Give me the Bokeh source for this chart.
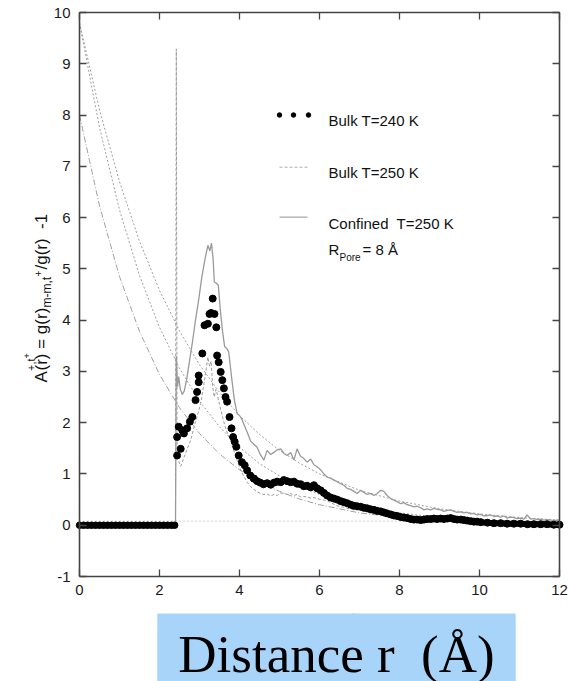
import math
from bokeh.plotting import figure
from bokeh.models import Range1d, Label, LinearAxis, FixedTicker
from bokeh.embed import file_html
from bokeh.resources import INLINE

# ---------------- data ----------------
x_ticks = [0, 2, 4, 6, 8, 10, 12]
y_ticks = [-1, 0, 1, 2, 3, 4, 5, 6, 7, 8, 9, 10]
y_tick_labels = {-1: "-1"}

# Bulk T=240 K (black dots)
bulk240_zero_x = [0.0, 0.1, 0.2, 0.3, 0.4, 0.5, 0.6, 0.7, 0.8, 0.9, 1.0, 1.1, 1.2,
                  1.3, 1.4, 1.5, 1.6, 1.7, 1.8, 1.9, 2.0, 2.1, 2.2, 2.3, 2.38]
bulk240_zero_y = [0.0] * 25
bulk240_peak_x = [2.44, 2.44, 2.48, 2.53, 2.57, 2.61, 2.69, 2.76, 2.82, 2.90, 2.94, 2.98,
                  2.98, 3.07, 3.125, 3.21, 3.25, 3.29, 3.33, 3.375, 3.42, 3.44, 3.48, 3.53,
                  3.57, 3.61, 3.65, 3.69, 3.75, 3.80, 3.84, 3.88, 3.92, 3.98, 4.06, 4.13,
                  4.19, 4.27, 4.36]
bulk240_peak_y = [1.36, 1.72, 1.92, 1.49, 1.85, 1.79, 1.89, 2.02, 2.11, 2.44, 2.60, 2.79,
                  2.92, 3.35, 3.90, 3.93, 4.12, 4.14, 4.42, 4.12, 3.86, 3.31, 3.18, 2.99,
                  2.83, 2.67, 2.50, 2.41, 2.11, 1.89, 1.72, 1.63, 1.53, 1.36, 1.23, 1.17,
                  1.07, 0.97, 0.91]
bulk240_tail_x = [4.36, 4.44, 4.52, 4.60, 4.69, 4.78, 4.86, 4.94, 5.03, 5.11, 5.19, 5.28,
                  5.36, 5.44, 5.53, 5.61, 5.69, 5.78, 5.86, 5.94, 6.03, 6.11, 6.19, 6.28,
                  6.36, 6.44, 6.53, 6.61, 6.69, 6.78, 6.86, 6.94, 7.03, 7.11, 7.19, 7.28,
                  7.36, 7.44, 7.53, 7.61, 7.69, 7.78, 7.86, 7.94, 8.03, 8.11, 8.19, 8.28,
                  8.36, 8.44, 8.53, 8.61, 8.69, 8.78, 8.86, 8.94, 9.03, 9.11, 9.20, 9.28,
                  9.36, 9.44, 9.53, 9.61, 9.69, 9.78, 9.86, 9.94, 10.03, 10.20, 10.36,
                  10.53, 10.69, 10.86, 11.03, 11.20, 11.36, 11.53, 11.69, 11.86, 12.0]
bulk240_tail_y = [0.91, 0.86, 0.83, 0.80, 0.82, 0.79, 0.83, 0.85, 0.84, 0.88, 0.86, 0.84,
                  0.85, 0.81, 0.80, 0.76, 0.77, 0.74, 0.78, 0.72, 0.68, 0.63, 0.58, 0.54,
                  0.52, 0.50, 0.47, 0.45, 0.43, 0.40, 0.38, 0.37, 0.36, 0.34, 0.33, 0.31,
                  0.30, 0.28, 0.27, 0.25, 0.23, 0.21, 0.19, 0.18, 0.16, 0.15, 0.14, 0.12,
                  0.11, 0.11, 0.10, 0.11, 0.12, 0.12, 0.13, 0.12, 0.13, 0.12, 0.13, 0.14,
                  0.12, 0.11, 0.11, 0.10, 0.09, 0.08, 0.07, 0.07, 0.06, 0.05, 0.04,
                  0.04, 0.03, 0.03, 0.03, 0.02, 0.02, 0.02, 0.02, 0.01, 0.01]

# Bulk T=250 K (dashed grey)
bulk250_x = [0.0, 2.40, 2.42, 2.44, 2.48, 2.53, 2.60, 2.70, 2.78, 2.86, 2.95, 3.03, 3.10,
             3.16, 3.21, 3.25, 3.29, 3.33, 3.37, 3.41, 3.44, 3.50, 3.58, 3.65, 3.72, 3.78,
             3.86, 3.94, 4.03, 4.11, 4.19, 4.28, 4.36, 4.44, 4.53, 4.61, 4.69, 4.78, 4.86,
             4.94, 5.03, 5.11, 5.19, 5.28, 5.36, 5.44, 5.53, 5.61, 5.69, 5.78, 5.86, 5.94,
             6.03, 6.11, 6.19, 6.28, 6.36, 6.44, 6.53, 6.61, 6.69, 6.78, 6.86, 6.94, 7.03,
             7.20, 7.36, 7.53, 7.69, 7.86, 8.03, 8.20, 8.36, 8.53, 8.70, 8.86, 9.03, 9.20,
             9.36, 9.53, 9.70, 9.86, 10.03, 10.5, 11.0, 11.5, 12.0]
bulk250_y = [0.0, 0.0, 9.29, 1.30, 1.25, 1.15, 1.30, 1.50, 1.66, 1.90, 2.15, 2.37, 2.70,
             3.00, 3.28, 3.10, 3.20, 2.70, 2.50, 2.65, 2.57, 2.35, 2.10, 1.90, 1.75, 1.66,
             1.45, 1.27, 1.07, 0.95, 0.84, 0.75, 0.70, 0.65, 0.62, 0.60, 0.61, 0.57, 0.60,
             0.58, 0.63, 0.62, 0.60, 0.62, 0.58, 0.60, 0.55, 0.56, 0.55, 0.53, 0.54, 0.52,
             0.50, 0.49, 0.48, 0.44, 0.41, 0.38, 0.36, 0.35, 0.33, 0.32, 0.30, 0.30, 0.29,
             0.26, 0.23, 0.20, 0.19, 0.17, 0.16, 0.14, 0.13, 0.12, 0.12, 0.11, 0.10, 0.10,
             0.09, 0.09, 0.08, 0.08, 0.07, 0.07, 0.06, 0.06, 0.05]

# Confined T=250 K, R_pore = 8 A (solid grey)
conf_x = [0.0, 2.40, 2.42, 2.45, 2.48, 2.52, 2.57, 2.62, 2.68, 2.75, 2.82, 2.90, 2.98, 3.06,
          3.14, 3.21, 3.26, 3.30, 3.34, 3.37, 3.42, 3.47, 3.52, 3.58, 3.63, 3.68, 3.73,
          3.80, 3.87, 3.94, 4.00, 4.05, 4.12, 4.20, 4.28, 4.36, 4.44, 4.52, 4.61, 4.69,
          4.78, 4.86, 4.94, 5.03, 5.11, 5.19, 5.28, 5.36, 5.44, 5.52, 5.61, 5.69, 5.78,
          5.86, 5.94, 6.03, 6.11, 6.19, 6.28, 6.36, 6.44, 6.53, 6.61, 6.69, 6.78, 6.86,
          6.94, 7.03, 7.11, 7.19, 7.28, 7.36, 7.44, 7.53, 7.61, 7.69, 7.78, 7.86, 7.94,
          8.03, 8.11, 8.19, 8.28, 8.36, 8.44, 8.53, 8.61, 8.69, 8.78, 8.86, 8.94, 9.03,
          9.11, 9.20, 9.28, 9.36, 9.44, 9.53, 9.61, 9.69, 9.78, 9.86, 9.94, 10.03, 10.11,
          10.20, 10.28, 10.36, 10.44, 10.53, 10.61, 10.69, 10.78, 10.86, 10.94, 11.03,
          11.11, 11.19, 11.28, 11.36, 11.44, 11.53, 11.61, 11.69, 11.78, 11.86, 11.94, 12.0]
conf_y = [0.0, 0.0, 3.30, 2.70, 2.90, 2.65, 2.55, 2.62, 2.85, 3.20, 3.55, 4.00, 4.40, 4.85,
          5.20, 5.46, 5.35, 5.50, 5.20, 4.75, 4.72, 4.68, 4.20, 3.75, 3.48, 3.45, 3.38,
          2.90, 2.45, 2.18, 2.14, 2.08, 1.95, 1.80, 1.64, 1.58, 1.52, 1.38, 1.27, 1.46,
          1.38, 1.42, 1.47, 1.49, 1.40, 1.36, 1.42, 1.27, 1.49, 1.35, 1.30, 1.23, 1.29,
          1.18, 1.14, 1.08, 1.00, 0.94, 0.92, 0.88, 0.85, 0.81, 0.78, 0.72, 0.70, 0.66,
          0.62, 0.68, 0.64, 0.60, 0.62, 0.58, 0.62, 0.68, 0.66, 0.58, 0.52, 0.49, 0.46,
          0.42, 0.44, 0.40, 0.38, 0.36, 0.37, 0.34, 0.30, 0.32, 0.30, 0.33, 0.31, 0.30,
          0.27, 0.29, 0.30, 0.27, 0.25, 0.26, 0.24, 0.25, 0.22, 0.23, 0.20, 0.21, 0.18,
          0.19, 0.20, 0.17, 0.18, 0.16, 0.18, 0.14, 0.16, 0.15, 0.13, 0.14,
          0.12, 0.20, 0.12, 0.13, 0.11, 0.12, 0.10, 0.11, 0.10, 0.09, 0.10, 0.09]

# decaying fit curves (grey dotted / dash-dot) and the baseline
fit_x = [0, 0.5, 1, 1.5, 2, 2.5, 3, 3.5, 4, 4.5, 5, 5.5, 6, 7, 8, 9, 10, 11, 12]
fit1_y = [9.8, 8.10, 6.70, 5.54, 4.58, 3.79, 3.13, 2.59, 2.14, 1.77, 1.46, 1.21, 1.00,
          0.68, 0.47, 0.32, 0.22, 0.15, 0.10]
fit2_y = [9.8, 7.76, 6.15, 4.87, 3.86, 3.06, 2.42, 1.92, 1.52, 1.20, 0.96, 0.76, 0.60,
          0.38, 0.24, 0.15, 0.09, 0.06, 0.04]
fit3_y = [8.0, 6.23, 4.85, 3.78, 2.94, 2.29, 1.79, 1.39, 1.08, 0.84, 0.66, 0.51, 0.40,
          0.24, 0.15, 0.09, 0.05, 0.03, 0.02]
base_x = [0, 12]
base_y = [0.08, 0.08]

# ---------------- layout helpers (pixel -> data) ----------------
L, T, R, B = 79, 12, 559, 576          # pixel box of the plotting area
W, H = 569, 681


def dx(px):
    return (px - L) / (R - L) * 12.0


def dy(py):
    return 10.0 - (py - T) / (B - T) * 11.0


SANS = "Liberation Sans"
GREY = "#9a9a9a"
AX = "#444444"

# frame spans the whole canvas; axes are placed at fixed data locations
p = figure(width=W, height=H, x_range=Range1d(dx(0), dx(W)), y_range=Range1d(dy(H), dy(0)),
           output_backend="svg", toolbar_location=None, min_border=0,
           x_axis_location=None, y_axis_location=None)
p.grid.visible = False
p.outline_line_color = None
p.background_fill_color = "white"
p.border_fill_color = "white"


def make_axis(ticks, fixed, bounds, labels):
    a = LinearAxis(ticker=FixedTicker(ticks=ticks), fixed_location=fixed, bounds=bounds,
                   major_tick_in=7, major_tick_out=0, minor_tick_line_color=None,
                   axis_line_color=AX, axis_line_width=1.6, major_tick_line_color=AX,
                   major_tick_line_width=1.3, major_label_text_font=SANS,
                   major_label_text_font_size="15px",
                   major_label_text_color="#1a1a1a" if labels else None,
                   major_label_standoff=8)
    return a


xb = make_axis(x_ticks, -1, (0, 12), True)
yl = make_axis(y_ticks, 0, (-1, 10), True)
yl.major_label_overrides = y_tick_labels
yl.major_label_standoff = 9
xt = make_axis(x_ticks, 10, (0, 12), False)
yr = make_axis(y_ticks, 12, (-1, 10), False)
p.add_layout(xb, "below")
p.add_layout(yl, "left")
p.add_layout(xt, "above")
p.add_layout(yr, "right")

# fits and baseline
p.line(base_x, base_y, line_color="#aaaaaa", line_width=1, line_dash="1 3")
p.line(fit_x, fit1_y, line_color="#a0a0a0", line_width=1, line_dash="2 2")
p.line(fit_x, fit2_y, line_color="#a0a0a0", line_width=1, line_dash="2 2")
p.line(fit_x, fit3_y, line_color="#a0a0a0", line_width=1, line_dash="6 2 1 2")

# bulk 250 K and confined
p.line(bulk250_x, bulk250_y, line_color=GREY, line_width=1, line_dash="3 2")
p.line(conf_x, conf_y, line_color=GREY, line_width=1.3)

# bulk 240 K dots
p.line(bulk240_zero_x, bulk240_zero_y, line_color="black", line_width=6)
p.scatter(bulk240_zero_x, bulk240_zero_y, size=6.5, color="black")
p.line(bulk240_tail_x, bulk240_tail_y, line_color="black", line_width=6)
p.scatter(bulk240_tail_x, bulk240_tail_y, size=7, color="black")
p.scatter(bulk240_peak_x, bulk240_peak_y, size=7, color="black")

# ---------------- manual legend ----------------
p.scatter([dx(279), dx(293), dx(308)], [dy(114.5)] * 3, size=4.5, color="black")
p.line([dx(279), dx(307)], [dy(166.7)] * 2, line_color="#aaaaaa", line_width=1, line_dash="3 2")
p.line([dx(279), dx(307)], [dy(216.7)] * 2, line_color="#aaaaaa", line_width=1.3)


def lab(px, py, text, size=15, angle=0.0, font=SANS, color="#111111", **kw):
    p.add_layout(Label(x=dx(px), y=dy(py), text=text, text_font=font,
                       text_font_size=f"{size}px", text_color=color, angle=angle,
                       text_align=kw.pop("align", "left"),
                       text_baseline=kw.pop("baseline", "alphabetic"), **kw))


lab(328, 120, "Bulk T=240 K")
lab(328, 171.7, "Bulk T=250 K")
lab(328, 223, "Confined\u00a0 T=250 K")
lab(328, 249, "R")
lab(339, 257, "Pore", size=10)
lab(362, 249, "= 8 Å")

# ---------------- rotated y-axis label ----------------
up = math.pi / 2
lab(41, 382, "A", size=17, angle=up)
lab(30, 370.5, "+,t", size=11, angle=up)
lab(26, 358, "+", size=9, angle=up)
lab(41, 370, "(r) = g(r)", size=17, angle=up)
lab(46, 307, "m-m,t", size=12, angle=up)
lab(37, 276, "+", size=10, angle=up)
lab(41, 269, "/g(r)\u00a0 -1", size=17, angle=up)

# ---------------- hidden original x label and the blue caption box ----------------
lab(315, 620, "Distance r\u00a0 (Å)", size=15, color="#c8c8c8", align="center")
p.add_layout(Label(x=dx(336), y=dy(658.4), text="Distance r\u00a0 (Å)",
                   text_font="Liberation Serif", text_font_size="53px",
                   text_color="black", text_align="center", text_baseline="alphabetic",
                   background_fill_color="#a8d4fa", padding=(21, 21, 12, 21)))

open("out.html", "w").write(file_html(p, INLINE))
